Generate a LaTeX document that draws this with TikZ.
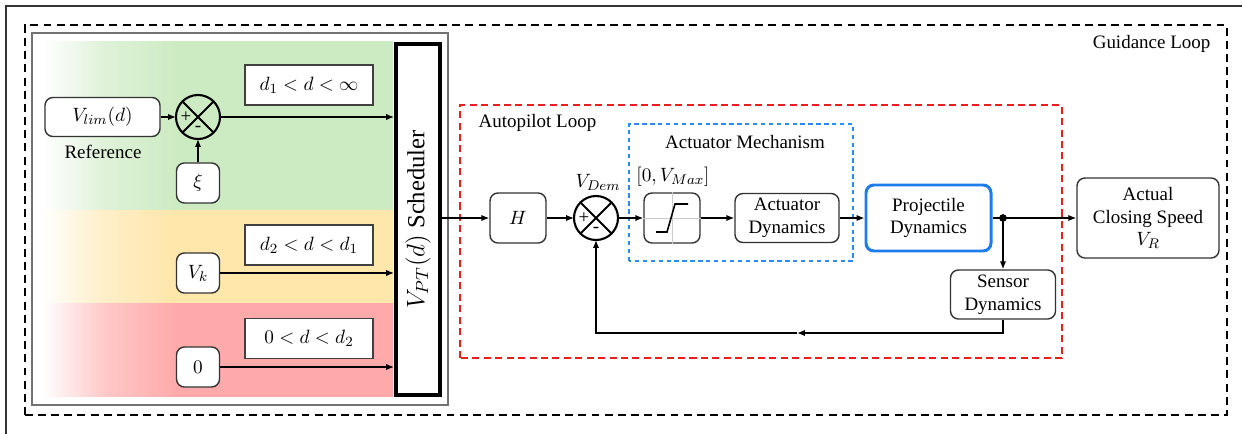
\documentclass[tikz,border=0pt]{standalone}
\usepackage{fontspec}
\setmainfont{Liberation Serif}
\usetikzlibrary{positioning,arrows.meta}

\definecolor{bandgreen}{RGB}{205,235,195}
\definecolor{bandyellow}{RGB}{255,230,170}
\definecolor{bandred}{RGB}{255,170,170}
\definecolor{projblue}{RGB}{30,125,235}
\definecolor{mechblue}{RGB}{40,140,255}
\definecolor{loopred}{RGB}{235,30,30}
\colorlet{bandcol}{bandgreen}

% white on the left, full band colour from about a third of the way
\pgfdeclarehorizontalshading[bandcol]{bandfade}{100bp}{color(0bp)=(white); color(25bp)=(white);
  color(34bp)=(bandcol!65); color(44bp)=(bandcol); color(100bp)=(bandcol)}

\tikzset{
  every picture/.style={/utils/exec={\fontsize{10.8}{13}\selectfont}},
  blk/.style={draw=black!80, line width=0.8pt, rounded corners=4.5pt, fill=white, align=center, inner sep=1pt},
  rng/.style={draw=black!75, line width=0.7pt, fill=white, minimum width=2.56cm, minimum height=0.8cm},
  sumnode/.style={circle, draw, line width=1.2pt, minimum size=0.88cm, inner sep=0pt, outer sep=0pt},
  arr/.style={-{Latex[length=4.5pt,width=3.6pt]}, line width=0.8pt},
}

\begin{document}
\begin{tikzpicture}
  \useasboundingbox (0,0) rectangle (24.84,8.68);
  \draw [black!80, line width=1.1pt] (0.12,0) -- (0.12,8.56) -- (24.84,8.56);

  % distance bands
  \foreach \c/\ya/\yb in {bandgreen/4.48/7.84, bandyellow/2.62/4.48, bandred/0.76/2.62} {
    \colorlet{bandcol}{\c}
    \shade [shading=bandfade] (0.84,\ya) rectangle (7.86,\yb);
  }
  \draw [black!55, line width=0.8pt] (0.64,0.58) rectangle (8.96,8.02);

  % loops
  \draw [line width=1.1pt, dash pattern=on 4.5pt off 3pt] (0.5,0.38) rectangle (24.54,8.18);
  \node [anchor=east] at (24.34,7.80) {Guidance Loop};
  \draw [loopred, line width=1pt, dash pattern=on 4pt off 2.5pt] (9.2,1.52) rectangle (21.24,6.58);
  \node [anchor=west] at (9.44,6.22) {Autopilot Loop};
  \draw [mechblue, line width=0.9pt, dash pattern=on 2.5pt off 2pt] (12.58,3.46) rectangle (17.06,6.2);
  \node at (14.90,5.84) {Actuator Mechanism};

  % scheduler inputs
  \node [blk, minimum width=2.3cm, minimum height=0.78cm] (vlim) at (2.05,6.34) {$V_{lim}(d)$};
  \node at (2.06,5.64) {Reference};
  \node [sumnode] (sum1) at (3.96,6.34) {};
  \node [blk, minimum width=0.86cm, minimum height=0.8cm] (xi) at (3.96,5.02) {$\xi$};
  \node [blk, minimum width=0.86cm, minimum height=0.8cm] (vk) at (3.96,3.22) {$V_k$};
  \node [blk, minimum width=0.86cm, minimum height=0.8cm] (zero) at (3.96,1.34) {$0$};
  \node [rng] (rng1) at (6.18,6.98) {$d_1 < d < \infty$};
  \node [rng] (rng2) at (6.18,3.78) {$d_2 < d < d_1$};
  \node [rng] (rng3) at (6.18,1.91) {$0 < d < d_2$};
  \node [draw, fill=white, line width=2.2pt, minimum width=0.88cm, minimum height=7.02cm, inner sep=0pt]
    (sched) at (8.36,4.29) {\rotatebox{90}{\fontsize{14}{16}\selectfont $V_{PT}(d)$ Scheduler}};

  % autopilot blocks
  \node [blk, minimum width=1.12cm, minimum height=1cm] (hblk) at (10.36,4.32) {$H$};
  \node [sumnode] (sum2) at (11.92,4.32) {};
  \node at (11.96,5.04) {$V_{Dem}$};
  \node [blk, minimum width=1.12cm, minimum height=1cm] (sat) at (13.44,4.32) {};
  \node at (13.46,5.14) {$[0,V_{Max}]$};
  \node [blk, minimum width=2.08cm, minimum height=0.98cm] (actdyn) at (15.74,4.32) {Actuator\\Dynamics};
  \node [blk, draw=projblue, line width=1.7pt, minimum width=2.5cm, minimum height=1.32cm] (proj) at (18.57,4.32) {Projectile\\Dynamics};
  \coordinate (jn) at (20.06,4.32);
  \node [blk, minimum width=2.84cm, minimum height=1.6cm] (vr) at (22.96,4.32) {Actual\\Closing Speed\\$V_R$};
  \node [blk, minimum width=2.1cm, minimum height=0.98cm] (sensor) at (20.06,2.79) {Sensor\\Dynamics};
  \coordinate (fb) at (15.94,2.02);

  % summing junctions
  \foreach \s in {sum1,sum2} {
    \draw [line width=1.2pt] (\s.north west) -- (\s.south east) (\s.north east) -- (\s.south west);
    \node [inner sep=0pt] at ([xshift=0.2cm]\s.west) {+};
    \node [inner sep=0pt] at ([yshift=0.2cm]\s.south) {-};
  }

  % saturation
  \draw [black!20] (sat.north) -- (sat.south) (sat.west) -- (sat.east);
  \draw [line width=0.9pt] ([shift={(-0.32,-0.28)}]sat.center) -- ++(0.22,0) -- ++(0.16,0.56) -- ++(0.26,0);

  \draw [arr] (vlim) -- (sum1);
  \draw [arr] (xi) -- (sum1);
  \draw [arr] (sum1) -- (sum1 -| sched.west);
  \draw [arr] (vk) -- (vk -| sched.west);
  \draw [arr] (zero) -- (zero -| sched.west);
  \draw [arr] (sched.east |- hblk) -- (hblk);
  \draw [arr] (hblk) -- (sum2);
  \draw [arr] (sum2) -- (sat);
  \draw [arr] (sat) -- (actdyn);
  \draw [arr] (actdyn) -- (proj);
  \draw [line width=0.8pt] (proj) -- (jn);
  \draw [arr] (jn) -- (vr);
  \draw [arr] (jn) -- (sensor);
  \draw [arr] (sensor.south) |- (fb);
  \draw [arr] (fb) -| (sum2.south);
  \fill (jn) circle (2.2pt);

\end{tikzpicture}
\end{document}
